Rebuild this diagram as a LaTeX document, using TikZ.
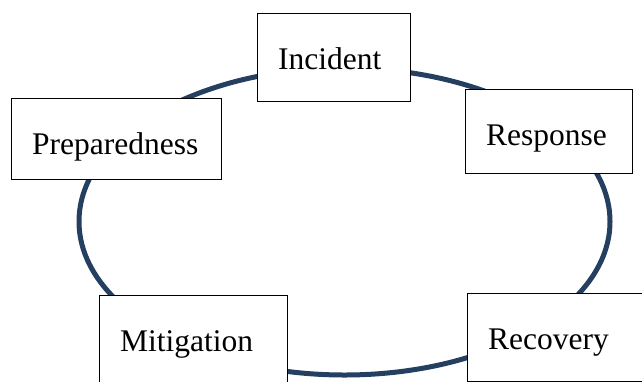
\documentclass[tikz,border=0pt]{standalone}
\usepackage{fontspec}
\setmainfont{Liberation Serif}
\definecolor{ringblue}{RGB}{36,63,96}
\begin{document}
\begin{tikzpicture}[x=1pt,y=-1pt,
  phase/.style={draw=black, line width=0.9pt, fill=white, rectangle, inner sep=0pt, anchor=north west},
  phaselabel/.style={anchor=base west, inner sep=0pt, font=\fontsize{31.5}{36}\selectfont},
  ring/.style={draw=ringblue, line width=5pt}]
\useasboundingbox (0,0) rectangle (642,381);
\clip (0,0) rectangle (642,381);
% the cycle ring behind the phase boxes
\draw[ring] (344.5,221.5) ellipse [x radius=265.5pt, y radius=153.5pt];
% phase boxes
\node[phase, minimum width=153pt, minimum height=88pt] (incidentbox) at (257,13) {};
\node[phase, minimum width=167pt, minimum height=84pt] (responsebox) at (465,89) {};
\node[phase, minimum width=210pt, minimum height=81pt] (preparednessbox) at (11,98) {};
\node[phase, minimum width=188pt, minimum height=100pt] (mitigationbox) at (99,295) {};
\node[phase, minimum width=190pt, minimum height=87.5pt] (recoverybox) at (467,293) {};
% phase labels
\node[phaselabel] (incident) at ([xshift=21pt,yshift=-56.5pt]incidentbox.north west) {Incident};
\node[phaselabel] (response) at ([xshift=21pt,yshift=-56.5pt]responsebox.north west) {Response};
\node[phaselabel] (preparedness) at ([xshift=21pt,yshift=-56.5pt]preparednessbox.north west) {Preparedness};
\node[phaselabel] (mitigation) at ([xshift=21pt,yshift=-56.5pt]mitigationbox.north west) {Mitigation};
\node[phaselabel] (recovery) at ([xshift=21pt,yshift=-56.5pt]recoverybox.north west) {Recovery};
\end{tikzpicture}
\end{document}
